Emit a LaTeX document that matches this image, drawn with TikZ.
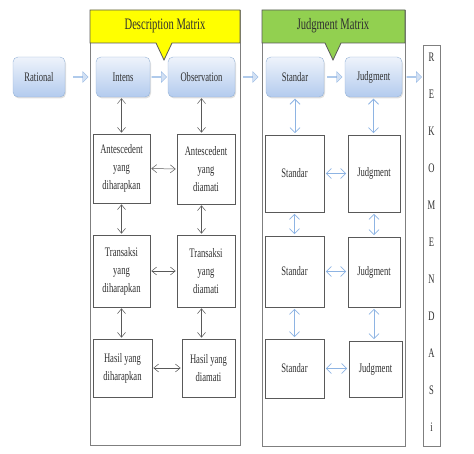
\documentclass[tikz,border=0pt]{standalone}
\usepackage{fontspec}
\setmainfont{Liberation Serif}[FakeStretch=0.66]
\usetikzlibrary{shapes.arrows, shadows, arrows.meta}
\definecolor{boxtop}{HTML}{EEF3FB}
\definecolor{boxbot}{HTML}{B3CBEE}
\definecolor{boxline}{HTML}{95B3D7}
\definecolor{arrowblue}{HTML}{8EB4E3}
\definecolor{arrowfill}{HTML}{D2E0F3}
\definecolor{arrowgray}{HTML}{595959}
\definecolor{framegray}{HTML}{7F7F7F}
\definecolor{headyellow}{HTML}{FFFF00}
\definecolor{headgreen}{HTML}{92D050}
\definecolor{textgray}{HTML}{303030}

\begin{document}
\begin{tikzpicture}[x=1pt, y=-1pt,
	font=\fontsize{13}{18}\selectfont, text=textgray,
	bluebox/.style={draw=boxline, rounded corners=5pt, top color=boxtop, bottom color=boxbot, minimum height=40pt, inner sep=0pt,
		drop shadow={opacity=0.25, shadow xshift=1pt, shadow yshift=-1.5pt}},
	whitebox/.style={draw=arrowgray, line width=0.6pt, fill=white, align=center, inner sep=0pt,
		drop shadow={opacity=0.2, shadow xshift=1pt, shadow yshift=-1pt}},
	blockarrow/.style={single arrow, draw=arrowblue, fill=arrowfill, minimum height=15pt, minimum width=11pt, single arrow head extend=2.5pt, inner sep=0pt},
	darrow/.style={<->, >={Straight Barb[length=5pt, width=8pt]}, draw=arrowgray, line width=0.5pt, shorten >=1pt, shorten <=1pt},
	barrow/.style={<->, >={Straight Barb[length=5pt, width=10pt]}, draw=arrowblue, line width=0.8pt, shorten >=1.5pt, shorten <=1.5pt},
	frame/.style={draw=framegray, line width=0.8pt}
	]
	\useasboundingbox (0,0) rectangle (474,454);
	\draw[frame] (90,10) rectangle (240,445);
	\draw[frame] (262,10) rectangle (405,446);
	\filldraw[fill=headyellow, draw=arrowgray, line width=0.8pt] (90,10) -- (240,10) -- (240,43) -- (172,43) -- (164,60) -- (156,43) -- (90,43) -- cycle;
	\filldraw[fill=headgreen, draw=arrowgray, line width=0.8pt] (262,10) -- (405,10) -- (405,43) -- (341,43) -- (333,60) -- (325,43) -- (262,43) -- cycle;
	\node[font=\fontsize{16}{18}\selectfont] (desctitle) at (165,26) {Description Matrix};
	\node[font=\fontsize{16}{18}\selectfont] (judgtitle) at (333,26) {Judgment Matrix};

	\node[bluebox, minimum width=52pt] (rational) at (39,77) {Rational};
	\node[bluebox, minimum width=54pt] (intens) at (123,77) {Intens};
	\node[bluebox, minimum width=67pt] (obs) at (201.5,77) {Observation};
	\node[bluebox, minimum width=58pt] (stdtop) at (295,77) {Standar};
	\node[bluebox, minimum width=57pt] (jdgtop) at (373.5,77) {Judgment};

	\node[draw=framegray, line width=0.8pt, minimum width=17pt, minimum height=401pt, inner sep=0pt] (rek) at (431.5,245.5) {};
	\foreach \letter [count=\i from 0] in {R,E,K,O,M,E,N,D,A,S,i}
		\node (rek\i) at (431.5, {57+37*\i}) {\letter};

	\node[blockarrow] (a1) at (80.5,77) {};
	\node[blockarrow] (a2) at (159,77) {};
	\node[blockarrow] (a3) at (250.5,77) {};
	\node[blockarrow] (a4) at (334.5,77) {};
	\node[blockarrow] (a5) at (414,77) {};

	\node[whitebox, minimum width=57pt, minimum height=69pt] (ante1) at (121.5,168.5) {Antescedent\\yang\\diharapkan};
	\node[whitebox, minimum width=58pt, minimum height=70pt] (ante2) at (206,169) {Antescedent\\yang\\diamati};
	\node[whitebox, minimum width=57pt, minimum height=72pt] (trans1) at (121.5,271) {Transaksi\\yang\\diharapkan};
	\node[whitebox, minimum width=58pt, minimum height=72pt] (trans2) at (206,271) {Transaksi\\yang\\diamati};
	\node[whitebox, minimum width=59pt, minimum height=58pt] (hasil1) at (122.5,368) {Hasil yang\\diharapkan};
	\node[whitebox, minimum width=53pt, minimum height=58pt] (hasil2) at (208.5,368) {Hasil yang\\diamati};

	\node[whitebox, minimum width=59pt, minimum height=77pt] (std1) at (294.5,173.5) {Standar};
	\node[whitebox, minimum width=52pt, minimum height=77pt] (jdg1) at (374,173.5) {Judgment};
	\node[whitebox, minimum width=59pt, minimum height=71pt] (std2) at (294.5,271.5) {Standar};
	\node[whitebox, minimum width=52pt, minimum height=70pt] (jdg2) at (374,272) {Judgment};
	\node[whitebox, minimum width=59pt, minimum height=59pt] (std3) at (294.5,368.5) {Standar};
	\node[whitebox, minimum width=53pt, minimum height=56pt] (jdg3) at (375.5,369) {Judgment};

	\draw[darrow] (ante1.north |- intens.south) -- (ante1.north);
	\draw[darrow] (obs.south) -- (obs.south |- ante2.north);
	\draw[darrow] (ante1.south) -- (trans1.north);
	\draw[darrow] (obs.south |- ante2.south) -- (obs.south |- trans2.north);
	\draw[darrow] (trans1.south) -- (trans1.south |- hasil1.north);
	\draw[darrow] (obs.south |- trans2.south) -- (obs.south |- hasil2.north);
	\draw[darrow] (ante1.east) -- (ante2.west);
	\draw[darrow] (trans1.east) -- (trans2.west);
	\draw[darrow] (hasil1.east) -- (hasil2.west);

	\draw[barrow] (stdtop.south) -- (stdtop.south |- std1.north);
	\draw[barrow] (jdgtop.south) -- (jdgtop.south |- jdg1.north);
	\draw[barrow] (std1.south) -- (std2.north);
	\draw[barrow] (jdg1.south) -- (jdg2.north);
	\draw[barrow] (std2.south) -- (std3.north);
	\draw[barrow] (jdg2.south) -- (jdg2.south |- jdg3.north);
	\draw[barrow] (std1.east) -- (jdg1.west);
	\draw[barrow] (std2.east) -- (std2.east -| jdg2.west);
	\draw[barrow] (std3.east) -- (std3.east -| jdg3.west);
\end{tikzpicture}
\end{document}
